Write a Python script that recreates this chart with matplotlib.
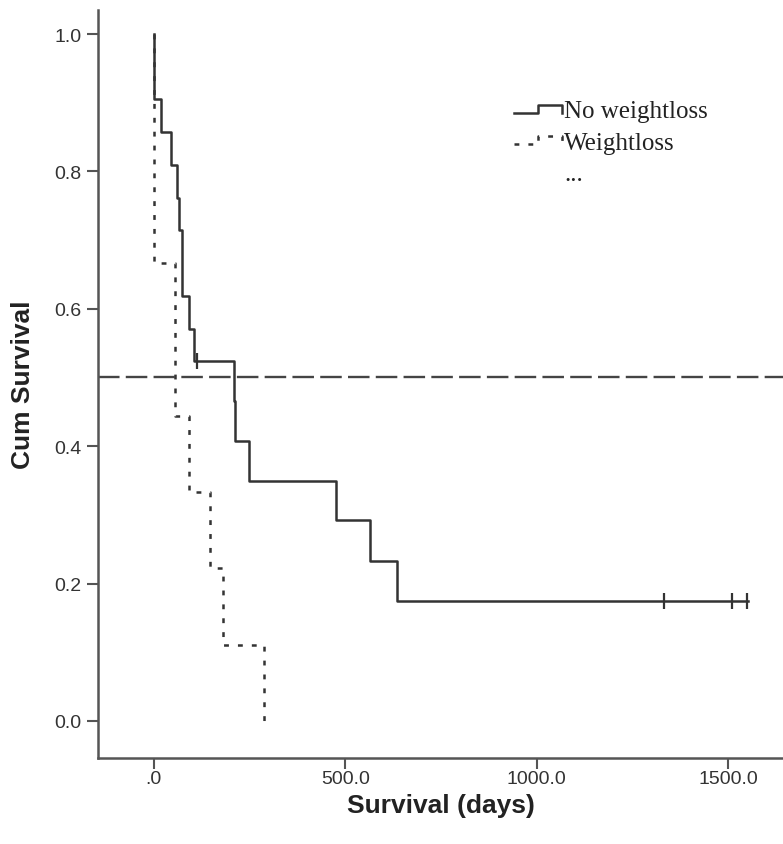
import matplotlib
matplotlib.use("Agg")
import matplotlib.pyplot as plt
from matplotlib.lines import Line2D
from matplotlib.legend_handler import HandlerBase

# Kaplan-Meier steps
nw_time = [0, 1, 18, 44, 60, 65, 73, 92, 105, 210, 213, 249, 476, 565, 636, 1552]
nw_surv = [1.0, 0.905, 0.857, 0.810, 0.762, 0.714, 0.619, 0.571, 0.524, 0.466, 0.408, 0.350, 0.292, 0.233, 0.175, 0.175]
nw_cens_time = [112, 1333, 1510, 1550]
nw_cens_surv = [0.524, 0.175, 0.175, 0.175]

wl_time = [0, 1, 55, 92, 147, 180, 288]
wl_surv = [1.0, 0.667, 0.444, 0.333, 0.222, 0.111, 0.0]

median_line = 0.5

x_ticks = [0, 500, 1000, 1500]
x_tick_labels = [".0", "500.0", "1000.0", "1500.0"]
y_ticks = [0.0, 0.2, 0.4, 0.6, 0.8, 1.0]
y_tick_labels = ["0.0", "0.2", "0.4", "0.6", "0.8", "1.0"]

legend_labels = ["No weightloss", "Weightloss", "..."]

plt.rcParams['lines.scale_dashes'] = False
line_col = "#333333"
spine_col = "#555555"


class StepHandler(HandlerBase):
    def create_artists(self, legend, orig_handle, xdescent, ydescent, width, height, fontsize, trans):
        x0 = -xdescent
        lo = -ydescent + 0.25 * height
        hi = -ydescent + 0.7 * height
        xs = [x0, x0 + 0.5 * width, x0 + 0.5 * width, x0 + width, x0 + width]
        ys = [lo, lo, hi, hi, lo]
        line = Line2D(xs, ys)
        line.update_from(orig_handle)
        line.set_transform(trans)
        return [line]


fig = plt.figure(figsize=(7.83, 8.45), dpi=100)
ax = fig.add_axes([98 / 783, 1 - 759 / 845, 1 - 98 / 783, (759 - 11) / 845])

h1, = ax.step(nw_time, nw_surv, where="post", color=line_col, lw=1.8)
ax.plot(nw_cens_time, nw_cens_surv, ls="none", marker="|", ms=11, mew=1.6, color=line_col)
h2, = ax.step(wl_time, wl_surv, where="post", color=line_col, lw=1.8, dashes=(3.5, 6.5))
ax.axhline(median_line, color="#444444", lw=1.7, dashes=(15.5, 4.5))

ax.set_xlim(-146, 1644)
ax.set_ylim(-0.054, 1.035)
ax.set_xticks(x_ticks)
ax.set_xticklabels(x_tick_labels, fontsize=14, family=["Liberation Sans Narrow", "Liberation Sans"], color="#333333")
ax.set_yticks(y_ticks)
ax.set_yticklabels(y_tick_labels, fontsize=14, family="Liberation Sans", color="#333333")
ax.tick_params(axis="both", length=8, width=1.5, color=spine_col, pad=4)
ax.tick_params(axis="x", pad=1)

for side in ["top", "right"]:
    ax.spines[side].set_visible(False)
for side in ["left", "bottom"]:
    ax.spines[side].set_color(spine_col)
    ax.spines[side].set_linewidth(1.8)

ax.set_xlabel("Survival (days)", fontsize=19, fontweight="bold", family="Liberation Sans", color="#222222", labelpad=4)
ax.set_ylabel("Cum Survival", fontsize=19, fontweight="bold", family="Liberation Sans", color="#222222", labelpad=14)

h3 = Line2D([], [], color="none")
leg = ax.legend([h1, h2, h3], legend_labels, loc="upper left", bbox_to_anchor=(0.575, 0.91),
                frameon=False, handler_map={h1: StepHandler(), h2: StepHandler()},
                prop={"family": "Liberation Serif", "size": 18}, handlelength=1.9,
                handletextpad=0.1, labelspacing=0.35)
for t in leg.get_texts():
    t.set_color("#222222")

fig.savefig("out.png", dpi=100)
